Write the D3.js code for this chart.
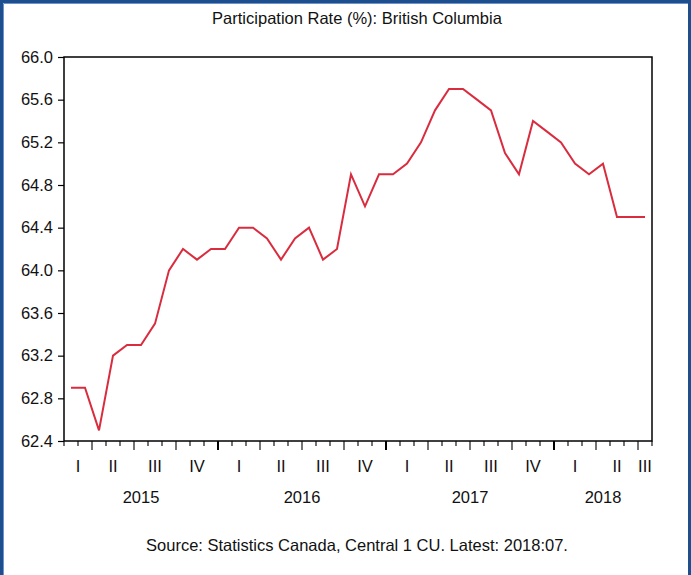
<!DOCTYPE html>
<html>
<head>
<meta charset="utf-8">
<script src="https://cdn.jsdelivr.net/npm/d3@7"></script>
<style>
  html, body { margin: 0; padding: 0; background: #fff; }
  svg { display: block; }
  text { font-family: "Liberation Sans", Arial, sans-serif; fill: #111; }
</style>
</head>
<body>
<svg id="chart" width="691" height="575"></svg>
<script>
// ---- Data ----
const title = "Participation Rate (%): British Columbia";
const source = "Source: Statistics Canada, Central 1 CU. Latest: 2018:07.";
// monthly observations, 2015:02 .. 2018:07
const months = [
  "2015-02","2015-03","2015-04","2015-05","2015-06","2015-07","2015-08","2015-09","2015-10","2015-11","2015-12",
  "2016-01","2016-02","2016-03","2016-04","2016-05","2016-06","2016-07","2016-08","2016-09","2016-10","2016-11","2016-12",
  "2017-01","2017-02","2017-03","2017-04","2017-05","2017-06","2017-07","2017-08","2017-09","2017-10","2017-11","2017-12",
  "2018-01","2018-02","2018-03","2018-04","2018-05","2018-06","2018-07"
];
const rate = [
  62.9, 62.9, 62.5, 63.2, 63.3, 63.3, 63.5, 64.0, 64.2, 64.1, 64.2,
  64.2, 64.4, 64.4, 64.3, 64.1, 64.3, 64.4, 64.1, 64.2, 64.9, 64.6, 64.9,
  64.9, 65.0, 65.2, 65.5, 65.7, 65.7, 65.6, 65.5, 65.1, 64.9, 65.4, 65.3,
  65.2, 65.0, 64.9, 65.0, 64.5, 64.5, 64.5
];
const yTicks = [62.4, 62.8, 63.2, 63.6, 64.0, 64.4, 64.8, 65.2, 65.6, 66.0];
const quarterNames = ["I", "II", "III", "IV"];
const years = ["2015", "2016", "2017", "2018"];

// ---- Layout ----
const svg = d3.select("#chart");
const L = 64, R = 652, T = 57, B = 441;
const FS = "16.5px";

const n = months.length;
const x = d3.scaleLinear().domain([0, n]).range([L, R]);   // boundaries between observations
const xc = i => x(i + 0.5);                                  // observation centre
const y = d3.scaleLinear().domain([62.4, 66.0]).range([B, T]);

// outer frame
svg.append("rect").attr("x", 0).attr("y", 0).attr("width", 691).attr("height", 575).attr("fill", "#fff");
svg.append("path").attr("d", "M1.5,575 V1.5 H689.5 V575")
  .attr("fill", "none").attr("stroke", "#1d4f8f").attr("stroke-width", 3);
svg.append("path").attr("d", "M3.5,575 V3.5 H688")
  .attr("fill", "none").attr("stroke", "#6f93c6").attr("stroke-width", 1);

// title
svg.append("text").attr("x", 357).attr("y", 24).attr("text-anchor", "middle")
  .style("font-size", FS).text(title);

// y axis
const yAxis = d3.axisLeft(y).tickValues(yTicks).tickFormat(d3.format(".1f")).tickSize(6).tickPadding(5);
const gy = svg.append("g").attr("transform", `translate(${L},0)`).call(yAxis);
gy.select(".domain").remove();
gy.selectAll(".tick line").attr("stroke", "#000").attr("stroke-width", 1.2);
gy.selectAll(".tick text").style("font-size", FS).style("font-family", "Liberation Sans, Arial, sans-serif").attr("fill", "#111");

// x ticks at month boundaries
const bounds = d3.range(0, n + 1);
const monthNum = i => +months[Math.min(i, n - 1)].slice(5);
const gx = svg.append("g");
bounds.forEach(b => {
  let kind = "minor";
  if (b < n) {
    const m = monthNum(b);
    if (m === 1) kind = "year";
    else if ((m - 1) % 3 === 0) kind = "quarter";
  }
  const len = kind === "minor" ? 5 : 9;
  gx.append("line")
    .attr("x1", x(b)).attr("x2", x(b))
    .attr("y1", B).attr("y2", B + len)
    .attr("stroke", "#000")
    .attr("stroke-width", kind === "year" ? 2 : 1.1);
});

// quarter labels
const quarters = d3.groups(d3.range(n), i => months[i].slice(0, 4) + "Q" + Math.floor((monthNum(i) - 1) / 3));
quarters.forEach(([key, idx]) => {
  const q = +key.split("Q")[1];
  const cx = (x(idx[0]) + x(idx[idx.length - 1] + 1)) / 2;
  svg.append("text").attr("x", cx).attr("y", 472).attr("text-anchor", "middle")
    .style("font-size", FS).text(quarterNames[q]);
});

// year labels
years.forEach(yr => {
  const idx = d3.range(n).filter(i => months[i].startsWith(yr));
  const cx = (x(idx[0]) + x(idx[idx.length - 1] + 1)) / 2;
  svg.append("text").attr("x", cx).attr("y", 503).attr("text-anchor", "middle")
    .style("font-size", FS).text(yr);
});

// series line
const line = d3.line().x((d, i) => xc(i)).y(d => y(d));
svg.append("path").datum(rate).attr("d", line)
  .attr("fill", "none").attr("stroke", "#d92d3f").attr("stroke-width", 2).attr("stroke-linejoin", "miter");

// plot frame
svg.append("rect").attr("x", L).attr("y", T).attr("width", R - L).attr("height", B - T)
  .attr("fill", "none").attr("stroke", "#000").attr("stroke-width", 1.5);

// source
svg.append("text").attr("x", 357).attr("y", 551).attr("text-anchor", "middle")
  .style("font-size", FS).text(source);
</script>
</body>
</html>
